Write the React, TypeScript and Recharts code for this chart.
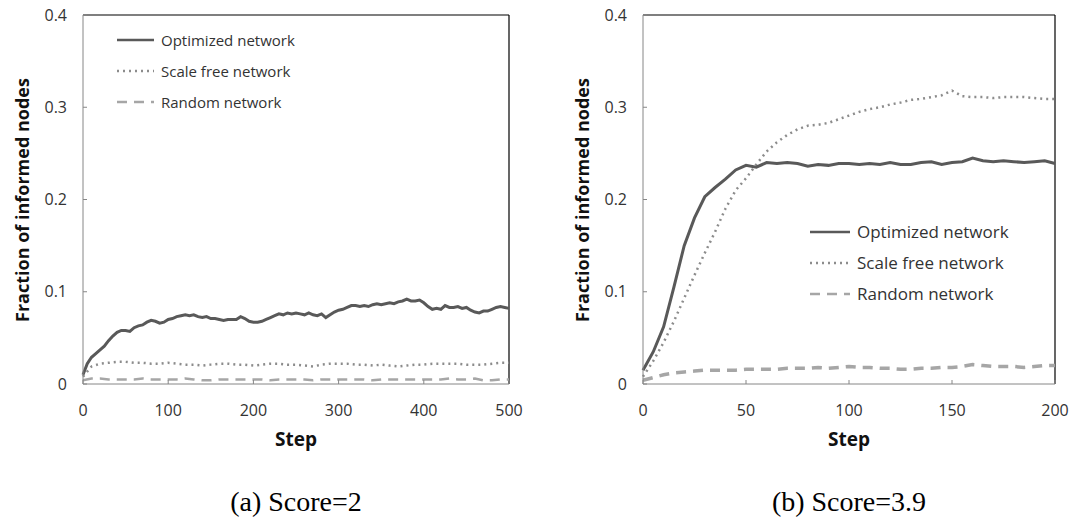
import { LineChart, Line, XAxis, YAxis, ReferenceLine, Legend, Label } from 'recharts'

// ---- panel (a): optimized sampled every 5 steps, the flatter series every 10
const stepsA5 = [
  0, 5, 10, 15, 20, 25, 30, 35, 40, 45, 50, 55, 60, 65, 70, 75, 80, 85, 90, 95, 100, 105, 110, 115,
  120, 125, 130, 135, 140, 145, 150, 155, 160, 165, 170, 175, 180, 185, 190, 195, 200, 205, 210,
  215, 220, 225, 230, 235, 240, 245, 250, 255, 260, 265, 270, 275, 280, 285, 290, 295, 300, 305,
  310, 315, 320, 325, 330, 335, 340, 345, 350, 355, 360, 365, 370, 375, 380, 385, 390, 395, 400,
  405, 410, 415, 420, 425, 430, 435, 440, 445, 450, 455, 460, 465, 470, 475, 480, 485, 490, 495, 500,
]
const optimizedA = [
  0.01, 0.022, 0.029, 0.033, 0.037, 0.041, 0.047, 0.052, 0.056, 0.058, 0.058, 0.057, 0.061, 0.063,
  0.064, 0.067, 0.069, 0.068, 0.066, 0.067, 0.07, 0.071, 0.073, 0.074, 0.075, 0.074, 0.075, 0.073,
  0.072, 0.073, 0.071, 0.071, 0.07, 0.069, 0.07, 0.07, 0.07, 0.073, 0.071, 0.068, 0.067, 0.067,
  0.068, 0.07, 0.072, 0.074, 0.076, 0.075, 0.077, 0.076, 0.077, 0.076, 0.075, 0.077, 0.075, 0.074,
  0.076, 0.072, 0.075, 0.078, 0.08, 0.081, 0.083, 0.085, 0.085, 0.084, 0.085, 0.084, 0.086, 0.087,
  0.086, 0.087, 0.088, 0.087, 0.089, 0.09, 0.092, 0.09, 0.09, 0.091, 0.088, 0.084, 0.081, 0.082,
  0.081, 0.085, 0.083, 0.083, 0.084, 0.082, 0.083, 0.08, 0.078, 0.077, 0.079, 0.079, 0.081, 0.083,
  0.084, 0.083, 0.082,
]
const stepsA10 = [
  0, 10, 20, 30, 40, 50, 60, 70, 80, 90, 100, 110, 120, 130, 140, 150, 160, 170, 180, 190, 200,
  210, 220, 230, 240, 250, 260, 270, 280, 290, 300, 310, 320, 330, 340, 350, 360, 370, 380, 390,
  400, 410, 420, 430, 440, 450, 460, 470, 480, 490, 500,
]
const scaleFreeA = [
  0.008, 0.019, 0.022, 0.023, 0.024, 0.024, 0.023, 0.023, 0.022, 0.022, 0.023, 0.022, 0.021, 0.021,
  0.02, 0.021, 0.022, 0.022, 0.021, 0.021, 0.02, 0.021, 0.022, 0.022, 0.021, 0.021, 0.02, 0.019,
  0.021, 0.022, 0.022, 0.022, 0.021, 0.021, 0.02, 0.021, 0.02, 0.019, 0.02, 0.021, 0.021, 0.022,
  0.022, 0.022, 0.022, 0.021, 0.021, 0.021, 0.022, 0.023, 0.023,
]
const randomA = [
  0.004, 0.006, 0.006, 0.005, 0.005, 0.005, 0.005, 0.006, 0.005, 0.005, 0.005, 0.005, 0.006, 0.005,
  0.004, 0.004, 0.005, 0.005, 0.005, 0.005, 0.005, 0.005, 0.004, 0.005, 0.005, 0.005, 0.005, 0.004,
  0.005, 0.005, 0.005, 0.005, 0.005, 0.005, 0.004, 0.005, 0.005, 0.005, 0.005, 0.005, 0.005, 0.005,
  0.005, 0.006, 0.005, 0.005, 0.006, 0.004, 0.004, 0.005, 0.005,
]

// ---- panel (b): 0..200 steps, sampled every 5
const stepsB = [
  0, 5, 10, 15, 20, 25, 30, 35, 40, 45, 50, 55, 60, 65, 70, 75, 80, 85, 90, 95, 100, 105, 110, 115,
  120, 125, 130, 135, 140, 145, 150, 155, 160, 165, 170, 175, 180, 185, 190, 195, 200,
]
const optimizedB = [
  0.015, 0.035, 0.062, 0.105, 0.15, 0.18, 0.203, 0.213, 0.222, 0.232, 0.237, 0.235, 0.24, 0.239,
  0.24, 0.239, 0.236, 0.238, 0.237, 0.239, 0.239, 0.238, 0.239, 0.238, 0.24, 0.238, 0.238, 0.24,
  0.241, 0.238, 0.24, 0.241, 0.245, 0.242, 0.241, 0.242, 0.241, 0.24, 0.241, 0.242, 0.239,
]
const scaleFreeB = [
  0.008, 0.025, 0.045, 0.068, 0.093, 0.118, 0.142, 0.165, 0.19, 0.21, 0.223, 0.238, 0.252, 0.262,
  0.27, 0.276, 0.28, 0.281, 0.283, 0.287, 0.291, 0.295, 0.298, 0.3, 0.303, 0.305, 0.308, 0.309,
  0.311, 0.313, 0.318, 0.312, 0.311, 0.311, 0.31, 0.311, 0.311, 0.311, 0.31, 0.309, 0.309,
]
const randomB = [
  0.004, 0.007, 0.01, 0.012, 0.013, 0.014, 0.015, 0.015, 0.015, 0.015, 0.016, 0.016, 0.016, 0.016,
  0.017, 0.017, 0.017, 0.018, 0.017, 0.018, 0.019, 0.018, 0.018, 0.017, 0.017, 0.016, 0.016, 0.017,
  0.017, 0.018, 0.018, 0.019, 0.021, 0.02, 0.019, 0.019, 0.019, 0.018, 0.019, 0.02, 0.02,
]

const yTicks = [0, 0.1, 0.2, 0.3, 0.4]
const xTicksA = [0, 100, 200, 300, 400, 500]
const xTicksB = [0, 50, 100, 150, 200]
const seriesNames = ['Optimized network', 'Scale free network', 'Random network']

const sans = '"Open Sans", sans-serif'
const axisGray = '#868686'
const textColor = '#333333'

const lineStyles = [
  { stroke: '#595959', width: 3, dash: undefined as string | undefined },
  { stroke: '#8c8c8c', width: 2.5, dash: '2 4' },
  { stroke: '#a6a6a6', width: 3, dash: '10 7' },
]

type Pt = { step: number; value: number }
const toPoints = (steps: number[], values: number[]): Pt[] =>
  steps.map((step, i) => ({ step, value: values[i] }))

const LegendBox = ({ fontSize, sample }: { fontSize: number; sample: number }) => (
  <div>
    {seriesNames.map((name, i) => (
      <div key={name} style={{ display: 'flex', alignItems: 'center', height: 31 }}>
        <svg width={sample} height={6}>
          <line
            x1={0}
            y1={3}
            x2={sample}
            y2={3}
            stroke={lineStyles[i].stroke}
            strokeWidth={2.5}
            strokeDasharray={lineStyles[i].dash}
          />
        </svg>
        <span style={{ marginLeft: 7, fontSize, fontFamily: sans, color: textColor }}>{name}</span>
      </div>
    ))}
  </div>
)

type PanelProps = {
  optimized: Pt[]
  scaleFree: Pt[]
  random: Pt[]
  width: number
  rightMargin: number
  xMax: number
  xTicks: number[]
  randomWidth: number
  legendPos: { left: number; top: number }
  legendFont: number
  legendSample: number
}

function Panel(p: PanelProps) {
  const plotMid = (83 + p.width - p.rightMargin) / 2
  return (
    <LineChart width={p.width} height={460} margin={{ top: 15, right: p.rightMargin, left: 43, bottom: 46 }}>
      <XAxis
        dataKey="step"
        type="number"
        domain={[0, p.xMax]}
        ticks={p.xTicks}
        height={30}
        stroke={axisGray}
        tickSize={-4}
        tickMargin={25}
        allowDuplicatedCategory={false}
        tick={{ fontSize: 16, fontFamily: sans, fill: textColor }}
      >
        <Label
          content={() => (
            <text x={plotMid} y={446} textAnchor="middle" fontFamily={sans} fontWeight={700} fontSize={19} fill="#111">
              Step
            </text>
          )}
        />
      </XAxis>
      <YAxis
        type="number"
        domain={[0, 0.4]}
        ticks={yTicks}
        width={40}
        stroke={axisGray}
        tickSize={-4}
        tickMargin={20}
        tickFormatter={(v: number) => (v === 0 ? '0' : v.toFixed(1))}
        tick={{ fontSize: 16, fontFamily: sans, fill: textColor }}
      >
        <Label
          content={() => (
            <text
              x={22}
              y={200}
              transform="rotate(-90 22 200)"
              textAnchor="middle"
              dominantBaseline="central"
              fontFamily={sans}
              fontWeight={700}
              fontSize={18}
              fill="#111"
            >
              Fraction of informed nodes
            </text>
          )}
        />
      </YAxis>
      <ReferenceLine y={0.4} stroke="#000" strokeWidth={1.2} />
      <ReferenceLine x={p.xMax} stroke="#000" strokeWidth={1.2} />
      <Line
        data={p.random}
        dataKey="value"
        name="Random network"
        type="linear"
        dot={false}
        stroke={lineStyles[2].stroke}
        strokeWidth={p.randomWidth}
        strokeDasharray={lineStyles[2].dash}
        isAnimationActive={false}
      />
      <Line
        data={p.scaleFree}
        dataKey="value"
        name="Scale free network"
        type="linear"
        dot={false}
        stroke={lineStyles[1].stroke}
        strokeWidth={lineStyles[1].width}
        strokeDasharray={lineStyles[1].dash}
        isAnimationActive={false}
      />
      <Line
        data={p.optimized}
        dataKey="value"
        name="Optimized network"
        type="linear"
        dot={false}
        stroke={lineStyles[0].stroke}
        strokeWidth={lineStyles[0].width}
        isAnimationActive={false}
      />
      <Legend
        layout="vertical"
        align="center"
        verticalAlign="middle"
        content={() => <LegendBox fontSize={p.legendFont} sample={p.legendSample} />}
        wrapperStyle={{ left: p.legendPos.left, top: p.legendPos.top, width: 220 }}
      />
    </LineChart>
  )
}

export default function App() {
  const captionStyle = {
    position: 'absolute' as const,
    top: 486,
    fontFamily: '"Liberation Serif", "Times New Roman", serif',
    fontSize: 28,
    color: '#000',
    whiteSpace: 'nowrap' as const,
    transform: 'translateX(-50%)',
  }
  return (
    <div style={{ position: 'absolute', left: 0, top: 0, width: 1075, height: 529, background: '#fff' }}>
      <div style={{ position: 'absolute', left: 0, top: 0 }}>
        <Panel
          optimized={toPoints(stepsA5, optimizedA)}
          scaleFree={toPoints(stepsA10, scaleFreeA)}
          random={toPoints(stepsA10, randomA)}
          width={540}
          rightMargin={31}
          xMax={500}
          xTicks={xTicksA}
          randomWidth={2.5}
          legendPos={{ left: 117, top: 24 }}
          legendFont={15}
          legendSample={37}
        />
      </div>
      <div style={{ position: 'absolute', left: 560, top: 0 }}>
        <Panel
          optimized={toPoints(stepsB, optimizedB)}
          scaleFree={toPoints(stepsB, scaleFreeB)}
          random={toPoints(stepsB, randomB)}
          width={515}
          rightMargin={20}
          xMax={200}
          xTicks={xTicksB}
          randomWidth={3.5}
          legendPos={{ left: 250, top: 216 }}
          legendFont={17}
          legendSample={40}
        />
      </div>
      <div style={{ ...captionStyle, left: 296 }}>(a) Score=2</div>
      <div style={{ ...captionStyle, left: 849 }}>(b) Score=3.9</div>
    </div>
  )
}
